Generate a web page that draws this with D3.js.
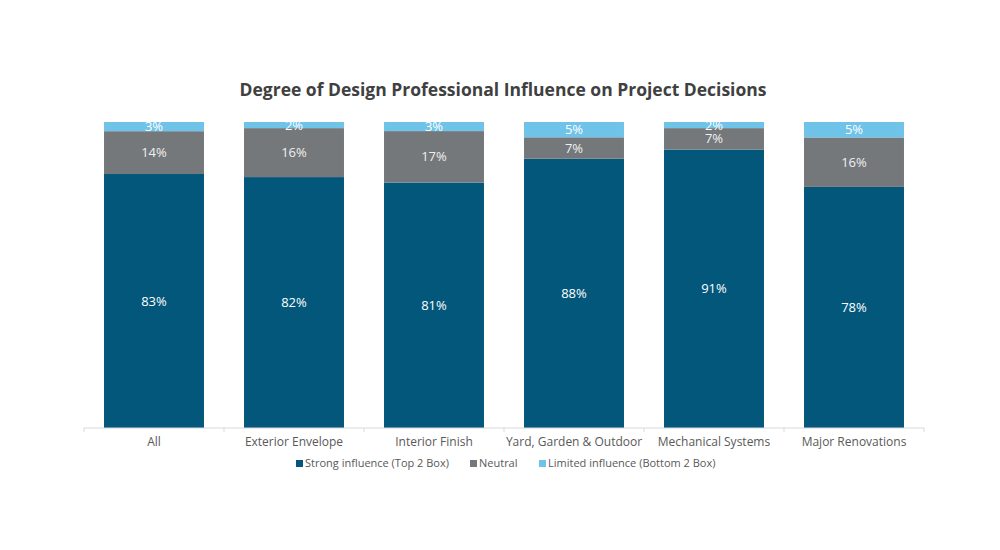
<!DOCTYPE html>
<html>
<head>
<meta charset="utf-8">
<script src="https://cdn.jsdelivr.net/npm/d3@7"></script>
<style>
  body { margin: 0; background: #fff; }
  text { font-family: "Open Sans", Lato, sans-serif; }
</style>
</head>
<body>
<script>
let width = 1000;
let height = 550;

let categories = ["All", "Exterior Envelope", "Interior Finish",
                  "Yard, Garden & Outdoor", "Mechanical Systems", "Major Renovations"];
let strong  = [83, 82, 81, 88, 91, 78];
let neutral = [14, 16, 17, 7, 7, 16];
let limited = [3, 2, 3, 5, 2, 5];

let seriesNames = ["Strong influence (Top 2 Box)", "Neutral", "Limited influence (Bottom 2 Box)"];
let seriesKeys = ["strong", "neutral", "limited"];
let colors = ["#03577b", "#75787b", "#6fc3e8"];
let labelColors = ["#ffffff", "#f0f0f0", "#ffffff"];

let rows = categories.map(function(c, i) {
    return { cat: c, strong: strong[i], neutral: neutral[i], limited: limited[i] };
});

//stack, normalised to 100%

let stacked = d3.stack()
    .keys(seriesKeys)
    .offset(d3.stackOffsetExpand)(rows);

//scales

let xScale = d3.scaleBand()
    .domain(categories)
    .range([84, 924])
    .paddingInner(0.286)
    .paddingOuter(0.143);

let yScale = d3.scaleLinear()
    .domain([0, 1])
    .range([428, 122]);

let color = d3.scaleOrdinal().domain(seriesKeys).range(colors);

//svg canvas

let svg = d3.select("body")
    .append("svg")
    .attr("width", width)
    .attr("height", height);

//title

svg.append("text")
    .text("Degree of Design Professional Influence on Project Decisions")
    .attr("x", 503)
    .attr("y", 96)
    .attr("text-anchor", "middle")
    .attr("font-size", "17.5px")
    .attr("font-weight", "bold")
    .attr("fill", "#404040");

//bars

let groups = svg.selectAll("g.series")
    .data(stacked)
    .enter()
    .append("g")
    .attr("class", "series")
    .attr("fill", function(d) { return color(d.key); });

groups.selectAll("rect")
    .data(function(d) { return d; })
    .enter()
    .append("rect")
    .attr("x", function(d) { return xScale(d.data.cat); })
    .attr("y", function(d) { return yScale(d[1]); })
    .attr("width", xScale.bandwidth())
    .attr("height", function(d) { return yScale(d[0]) - yScale(d[1]); });

//labels

groups.each(function(s, si) {
    d3.select(this).selectAll("text")
        .data(s)
        .enter()
        .append("text")
        .text(function(d) { return d.data[s.key] + "%"; })
        .attr("x", function(d) { return xScale(d.data.cat) + xScale.bandwidth() / 2; })
        .attr("y", function(d) { return (yScale(d[0]) + yScale(d[1])) / 2; })
        .attr("dy", "0.35em")
        .attr("text-anchor", "middle")
        .attr("font-size", "13px")
        .attr("fill", labelColors[si]);
});

//x axis

let xAxis = svg.append("g")
    .attr("transform", "translate(0,428)");

xAxis.append("line")
    .attr("x1", 84).attr("x2", 924)
    .attr("stroke", "#d9d9d9");

let step = xScale.step();
xAxis.selectAll("line.tick")
    .data(d3.range(categories.length + 1))
    .enter()
    .append("line")
    .attr("class", "tick")
    .attr("x1", function(i) { return 84 + i * step; })
    .attr("x2", function(i) { return 84 + i * step; })
    .attr("y1", 0).attr("y2", 4)
    .attr("stroke", "#d9d9d9");

xAxis.selectAll("text")
    .data(categories)
    .enter()
    .append("text")
    .text(function(d) { return d; })
    .attr("x", function(d) { return xScale(d) + xScale.bandwidth() / 2; })
    .attr("y", 18)
    .attr("text-anchor", "middle")
    .attr("font-size", "12px")
    .attr("fill", "#595959");

//legend

let legendX = [296, 470, 539];
let legend = svg.selectAll("g.legend")
    .data(seriesNames)
    .enter()
    .append("g")
    .attr("class", "legend")
    .attr("transform", function(d, i) { return "translate(" + legendX[i] + ",467)"; });

legend.append("rect")
    .attr("x", 0).attr("y", -7)
    .attr("width", 7).attr("height", 7)
    .attr("fill", function(d, i) { return colors[i]; });

legend.append("text")
    .text(function(d) { return d; })
    .attr("x", 9)
    .attr("y", 0)
    .attr("font-size", "11px")
    .attr("fill", "#595959");
</script>
</body>
</html>
